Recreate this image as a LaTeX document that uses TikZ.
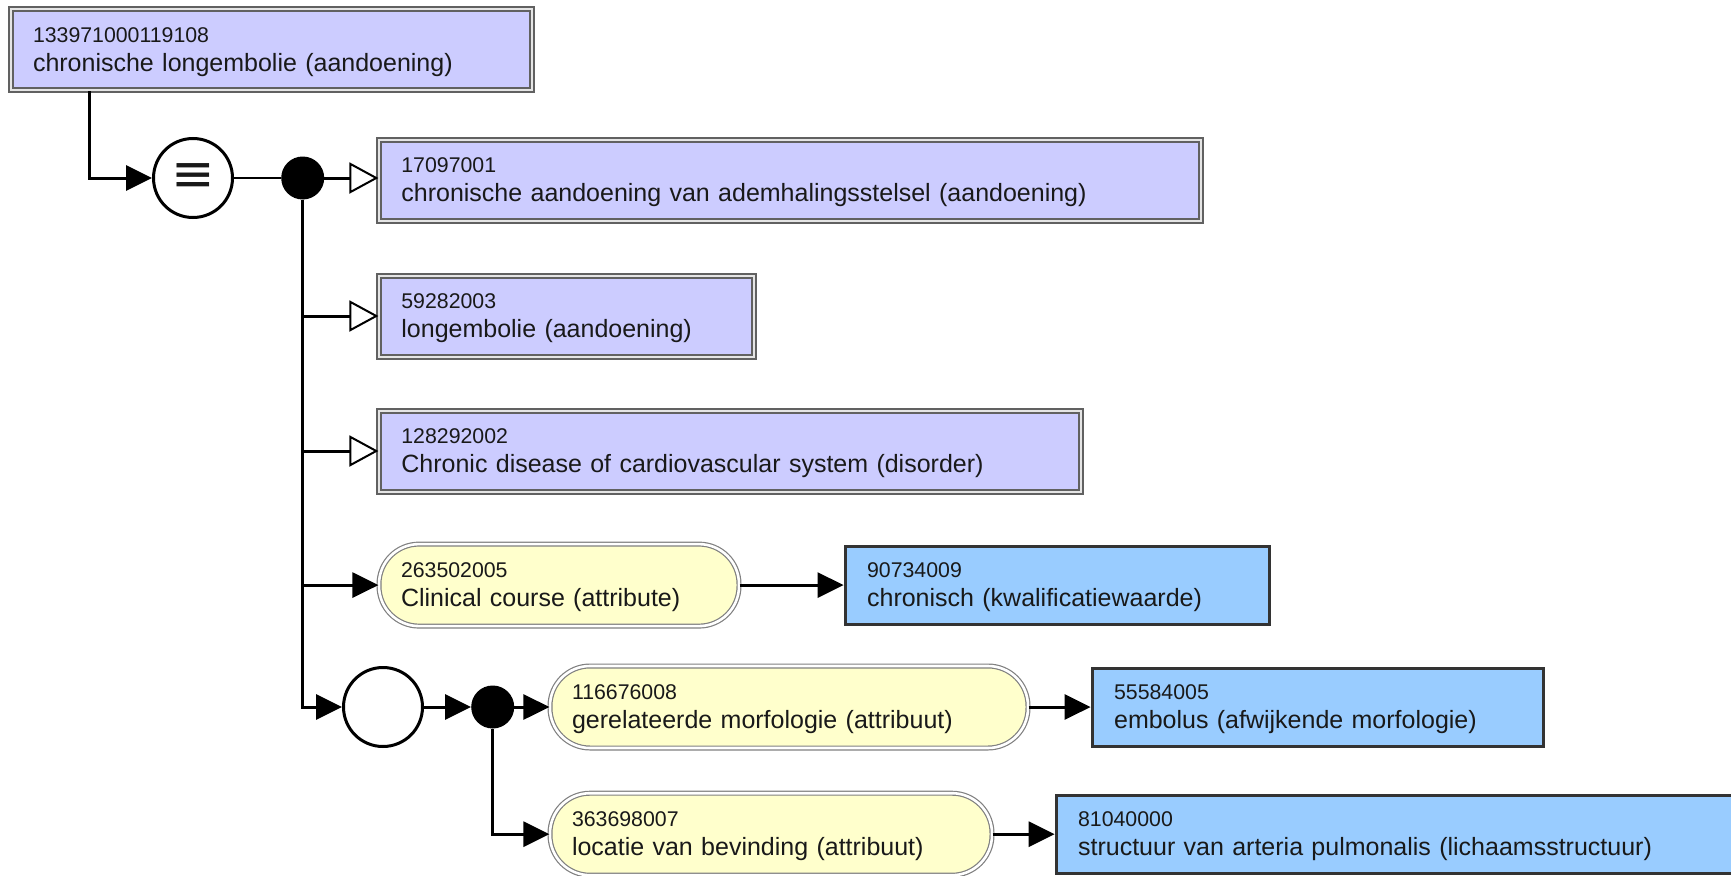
\documentclass[tikz,border=0pt]{standalone}
\usepackage{fontspec}
\setmainfont{Liberation Sans}
\newfontfamily\symfont{DejaVu Sans}
\usetikzlibrary{arrows.meta,positioning}

\definecolor{conceptfill}{HTML}{CCCCFF}
\definecolor{attrfill}{HTML}{FFFFCC}
\definecolor{valuefill}{HTML}{99CCFF}

\newcommand{\numfont}{\fontsize{21.3}{25}\selectfont}
\newcommand{\namefont}{\fontsize{25}{29}\selectfont}
\newcommand{\idname}[2]{{\numfont\rule{0pt}{19.5pt}#1}\\#2}

\begin{document}
\begin{tikzpicture}[
    x = 1pt, y = -1pt, % pixel grid, y runs down
    > = {Triangle[length=26pt,width=25pt]}, % arrow head style
    link/.style = {line width=3pt, ->},
    isa/.style = {line width=3pt, -{Triangle[open,length=29pt,width=31pt,line width=2pt,fill=white]}}
    ]

    \tikzset{
    every node/.style = {font=\namefont, text=black!90, align=left, inner xsep=22pt, inner ysep=0pt},
    concept/.style = {draw=black!62, double=black!10, line width=2pt, double distance=2pt, fill=conceptfill, minimum height=81pt},
    attr/.style = {draw=black!50, double=white, line width=1.2pt, double distance=2.6pt, fill=attrfill, rounded corners=40pt, minimum height=82pt},
    valuebox/.style = {draw=black!80, line width=3pt, fill=valuefill, minimum height=78pt},
    operator/.style = {circle, draw, line width=3pt, fill=white, minimum size=79pt, inner sep=0pt},
    conj/.style = {circle, fill=black, minimum size=43pt, inner sep=0pt}
    }

    \useasboundingbox (0,0) rectangle (1731,875);
    \clip (0,0) rectangle (1731,875);

    \node[concept, text width=477pt, anchor=north west] (root) at (10,8) {\idname{133971000119108}{chronische longembolie (aandoening)}};
    \node[operator, font=\fontsize{52}{52}\selectfont\symfont] (eq) at (193,178) {≡};
    \node[conj] (and1) [right=47pt of eq] {};
    \node[concept, text width=778pt] (c2) [right=54pt of and1, yshift=-2pt] {\idname{17097001}{chronische aandoening van ademhalingsstelsel (aandoening)}};
    \node[concept, text width=331pt] (c3) [below=53pt of c2.south west, anchor=north west] {\idname{59282003}{longembolie (aandoening)}};
    \node[concept, text width=658pt] (c4) [below=52pt of c3.south west, anchor=north west] {\idname{128292002}{Chronic disease of cardiovascular system (disorder)}};
    \node[attr, text width=316pt] (a1) [below=51pt of c4.south west, anchor=north west] {\idname{263502005}{Clinical course (attribute)}};
    \node[valuebox, text width=380pt] (v1) [right=104pt of a1] {\idname{90734009}{chronisch (kwalificatiewaarde)}};

    \node[operator] (grp) at (383,707) {};
    \node[conj] (and2) [right=47pt of grp] {};
    \node[attr, text width=434pt] (a2) [right=35pt of and2] {\idname{116676008}{gerelateerde morfologie (attribuut)}};
    \node[valuebox, text width=407pt] (v2) [right=62pt of a2] {\idname{55584005}{embolus (afwijkende morfologie)}};
    \node[attr, text width=398pt] (a3) [below=44pt of a2.south west, anchor=north west] {\idname{363698007}{locatie van bevinding (attribuut)}};
    \node[valuebox, text width=656pt] (v3) [right=62pt of a3] {\idname{81040000}{structuur van arteria pulmonalis (lichaamsstructuur)}};

    \draw[link] ([xshift=79pt]root.south west) |- (eq);
    \draw[line width=2.5pt] (eq) -- (and1);
    \draw[isa] (and1) -- (and1 -| c2.west);
    \draw[isa] (and1) |- (c3.west);
    \draw[isa] (and1) |- (c4.west);
    \draw[link] (and1) |- (a1.west);
    \draw[link] (and1) |- (grp);
    \draw[link] (a1) -- (v1);
    \draw[link] (grp) -- (and2);
    \draw[link] (and2) -- (a2);
    \draw[link] (a2) -- (v2);
    \draw[link] (and2) |- (a3.west);
    \draw[link] (a3) -- (v3);
\end{tikzpicture}
\end{document}
